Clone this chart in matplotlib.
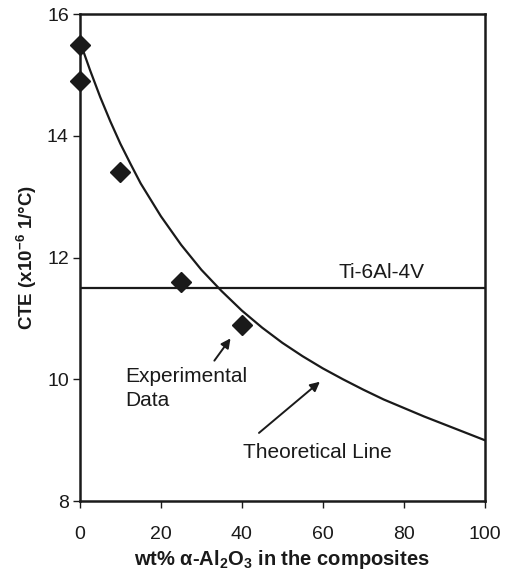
import matplotlib
matplotlib.use("Agg")
import matplotlib.pyplot as plt

plt.rcParams['font.family'] = ['Liberation Sans', 'DejaVu Sans']
plt.rcParams['mathtext.fontset'] = 'custom'
plt.rcParams['mathtext.rm'] = 'Liberation Sans'
plt.rcParams['mathtext.bf'] = 'Liberation Sans:bold'

# Experimental data
exp_x = [0, 0, 10, 25, 40]
exp_y = [15.5, 14.9, 13.4, 11.6, 10.9]

# Theoretical line
theo_x = [0, 2.5, 5, 7.5, 10, 12.5, 15, 20, 25, 30, 35, 40, 45, 50, 55, 60,
          65, 70, 75, 80, 85, 90, 95, 100]
theo_y = [15.55, 15.08, 14.64, 14.24, 13.87, 13.54, 13.22, 12.68, 12.21, 11.80,
          11.45, 11.13, 10.85, 10.60, 10.38, 10.18, 10.00, 9.83, 9.67, 9.53,
          9.39, 9.26, 9.13, 9.00]

# Ti-6Al-4V reference
ti_cte = 11.5

x_ticks = [0, 20, 40, 60, 80, 100]
y_ticks = [8, 10, 12, 14, 16]

ink = '#1a1a1a'

fig = plt.figure(figsize=(5.06, 5.70), dpi=100)
ax = fig.add_axes([0.158, 0.121, 0.800, 0.854])

ax.plot(theo_x, theo_y, color=ink, lw=1.6, zorder=2)
ax.axhline(ti_cte, color=ink, lw=1.6, zorder=2)
ax.plot(exp_x, exp_y, 'D', color=ink, markersize=10.5, zorder=3, clip_on=False)

ax.set_xlim(0, 100)
ax.set_ylim(8, 16)
ax.set_xticks(x_ticks)
ax.set_yticks(y_ticks)
ax.tick_params(direction='out', length=5, width=1, colors=ink, labelsize=14,
               top=False, right=False)
ax.tick_params(axis='y', pad=3)
ax.tick_params(axis='x', pad=13)
for s in ax.spines.values():
    s.set_linewidth(1.8)
    s.set_color(ink)

ax.set_xlabel('wt% α-Al$_{\\mathbf{2}}$O$_{\\mathbf{3}}$ in the composites',
              fontsize=14.5, fontweight='bold', color=ink, labelpad=3.5)
ax.set_ylabel('CTE (x10$^{\\mathbf{-6}}$ 1/°C)', fontsize=13.5,
              fontweight='bold', color=ink, labelpad=6)

ax.text(74.4, 11.75, 'Ti-6Al-4V', fontsize=15, color=ink, ha='center', va='center')
ax.text(11.1, 10.04, 'Experimental', fontsize=15, color=ink, ha='left', va='center')
ax.text(11.1, 9.66, 'Data', fontsize=15, color=ink, ha='left', va='center')
ax.text(40.2, 8.79, 'Theoretical Line', fontsize=15, color=ink, ha='left', va='center')

arrow = dict(arrowstyle='-|>', color=ink, lw=1.4, mutation_scale=14)
ax.annotate('', xy=(37.6, 10.71), xytext=(32.8, 10.27), arrowprops=arrow)
ax.annotate('', xy=(59.8, 9.99), xytext=(43.7, 9.09), arrowprops=arrow)

fig.savefig('out.png', dpi=100)
